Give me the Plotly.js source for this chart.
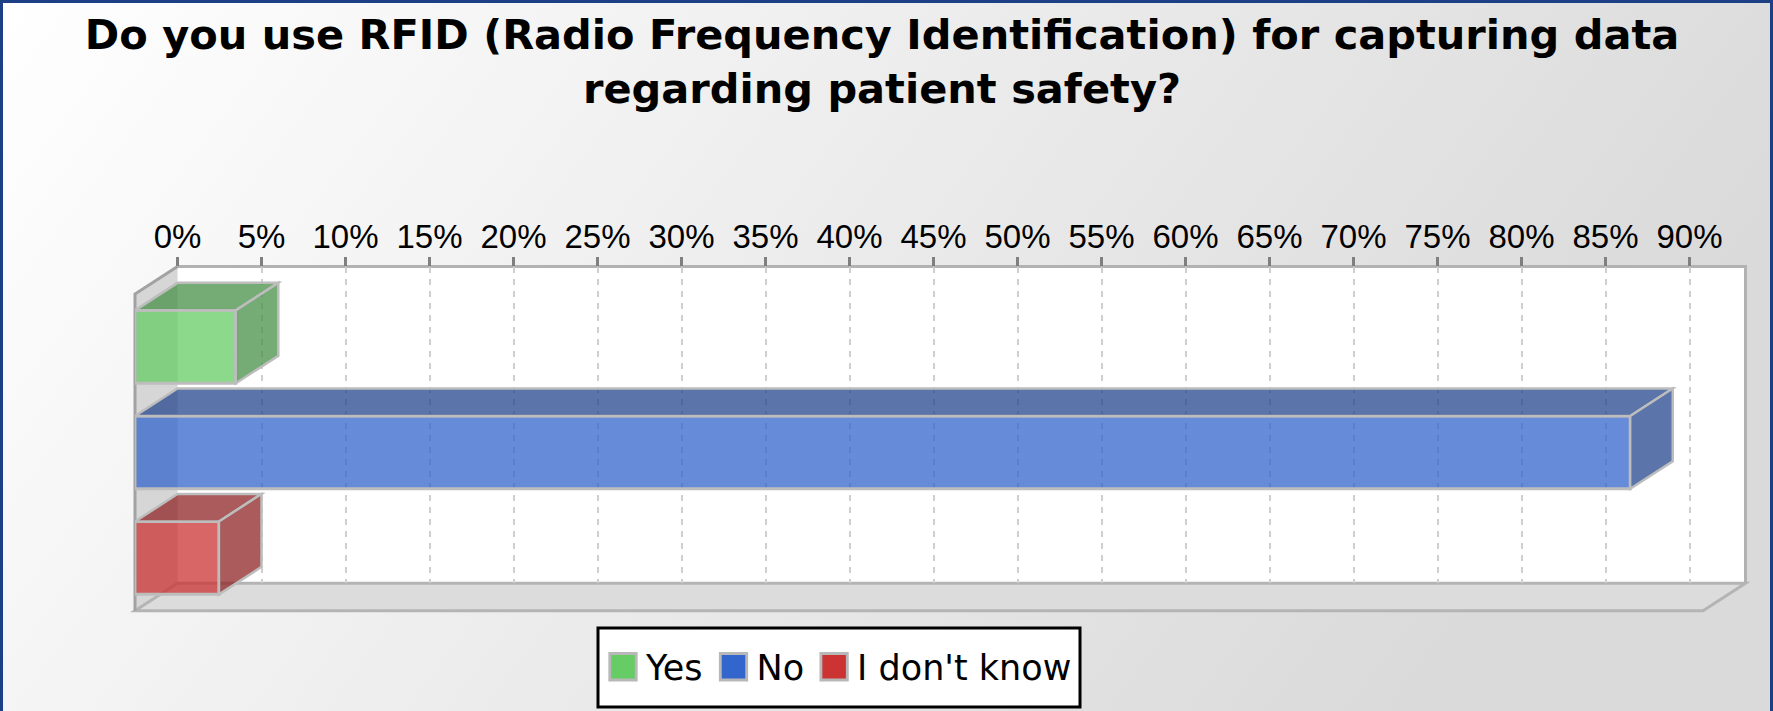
<!DOCTYPE html>
<html>
<head>
<meta charset="utf-8">
<script src="https://cdn.plot.ly/plotly-3.0.1.min.js"></script>
<style>
html, body { margin: 0; padding: 0; background: #ffffff; }
#chart { width: 1773px; height: 711px; }
</style>
</head>
<body>
<div id="chart"></div>
<script>
// ---------------- DATA ----------------
const categories = ['Yes', 'No', "I don't know"];
const values = [6, 89, 5];               // percent of respondents
const baseColors = ['#66cc66', '#3366cc', '#cc3333'];
const tickValues = [0, 5, 10, 15, 20, 25, 30, 35, 40, 45, 50, 55, 60, 65, 70, 75, 80, 85, 90];
const tickLabels = ['0%', '5%', '10%', '15%', '20%', '25%', '30%', '35%', '40%', '45%',
                    '50%', '55%', '60%', '65%', '70%', '75%', '80%', '85%', '90%'];
const titleText = 'Do you use RFID (Radio Frequency Identification) for capturing data<br>regarding patient safety?';

// ---------------- LAYOUT GEOMETRY (pixels) ----------------
const W = 1773, H = 711;
const FX0 = 135, FY0 = 294;        // front plane top-left
const PW = 1568, PH = 316.7;       // plane size
const DX = 42.5, DY = 27.5;        // 3D depth offset
const BX0 = FX0 + DX, BY0 = FY0 - DY; // back plane top-left
const XMAX = 93.33;
const BAR_W = 0.69;
const ALPHA = 0.75;

const px = x => x / W;
const py = y => 1 - y / H;

function hexRgb(h) {
  return [parseInt(h.slice(1, 3), 16), parseInt(h.slice(3, 5), 16), parseInt(h.slice(5, 7), 16)];
}
function rgba(h, a, f) {
  const c = hexRgb(h).map(v => Math.round(v * (f || 1)));
  return `rgba(${c[0]},${c[1]},${c[2]},${a})`;
}

// ---------------- TRACES ----------------
// back-plane axis carrier (draws nothing; makes the back-wall axis with ticks and grid exist)
const backPlane = {
  type: 'scatter', mode: 'lines', x: [0], y: [0],
  xaxis: 'x', yaxis: 'y', showlegend: false, hoverinfo: 'skip',
  line: { width: 0, color: 'rgba(0,0,0,0)' }
};

const bars = categories.map((cat, i) => ({
  type: 'bar',
  orientation: 'h',
  name: cat,
  x: [values[i]],
  y: [i],
  xaxis: 'x2',
  yaxis: 'y2',
  width: BAR_W,
  marker: { color: rgba(baseColors[i], ALPHA), line: { color: '#bdbdbd', width: 3 } },
  hoverinfo: 'x+name'
}));
const data = [backPlane].concat(bars);

// 3D faces of each bar, in data units of the front axes
const pxPerX = PW / XMAX;
const pxPerY = PH / categories.length;
const ddx = DX / pxPerX;
const ddy = DY / pxPerY;
const faceShapes = [];
categories.forEach((cat, i) => {
  const v = values[i], w = BAR_W / 2;
  const top = i - w, bot = i + w;
  const fill = rgba(baseColors[i], ALPHA, 0.7);
  faceShapes.push({
    type: 'path', xref: 'x2', yref: 'y2', layer: 'above',
    path: `M0,${top} L${ddx},${top - ddy} L${v + ddx},${top - ddy} L${v},${top} Z`,
    fillcolor: fill, line: { color: '#bdbdbd', width: 2.5 }
  });
  faceShapes.push({
    type: 'path', xref: 'x2', yref: 'y2', layer: 'above',
    path: `M${v},${top} L${v + ddx},${top - ddy} L${v + ddx},${bot - ddy} L${v},${bot} Z`,
    fillcolor: fill, line: { color: '#bdbdbd', width: 2.5 }
  });
});

// frame shapes (paper coordinates)
const P = (x, y) => `${px(x)},${py(y)}`;
const frameShapes = [
  // back wall
  { type: 'rect', xref: 'paper', yref: 'paper', layer: 'below',
    x0: px(BX0), x1: px(BX0 + PW), y0: py(BY0 + PH), y1: py(BY0),
    fillcolor: '#ffffff', line: { width: 0 } },
  // left wall
  { type: 'path', xref: 'paper', yref: 'paper', layer: 'below',
    path: `M${P(FX0, FY0)} L${P(BX0, BY0)} L${P(BX0, BY0 + PH)} L${P(FX0, FY0 + PH)} Z`,
    fillcolor: '#d6d6d6', line: { width: 0 } },
  // floor
  { type: 'path', xref: 'paper', yref: 'paper', layer: 'below',
    path: `M${P(BX0, BY0 + PH)} L${P(BX0 + PW, BY0 + PH)} L${P(FX0 + PW, FY0 + PH)} L${P(FX0, FY0 + PH)} Z`,
    fillcolor: '#dcdcdc', line: { color: '#b4b4b4', width: 3 } },
  // back wall top and right edges
  { type: 'path', xref: 'paper', yref: 'paper', layer: 'below',
    path: `M${P(BX0, BY0)} L${P(BX0 + PW, BY0)} L${P(BX0 + PW, BY0 + PH)}`,
    line: { color: '#b2b2b2', width: 3 } },
  // left wall edges
  { type: 'path', xref: 'paper', yref: 'paper', layer: 'below',
    path: `M${P(FX0, FY0 + PH)} L${P(FX0, FY0)} L${P(BX0, BY0)}`,
    line: { color: '#a2a2a2', width: 3 } },
  // legend box
  { type: 'rect', xref: 'paper', yref: 'paper', layer: 'below',
    x0: px(598), x1: px(1080), y0: py(707), y1: py(628),
    fillcolor: '#ffffff', line: { color: '#000000', width: 3 } },
  // outer border
  { type: 'path', xref: 'paper', yref: 'paper', layer: 'above',
    path: `M${P(1.5, H)} L${P(1.5, 1.5)} L${P(W - 1.5, 1.5)} L${P(W - 1.5, H)}`,
    line: { color: '#1d3f86', width: 3 } }
];

const gradSvg = `<svg xmlns='http://www.w3.org/2000/svg' width='${W}' height='${H}' preserveAspectRatio='none'>` +
  `<defs><linearGradient id='g' x1='0' y1='0' x2='1' y2='0.3'>` +
  `<stop offset='0' stop-color='#ffffff'/><stop offset='1' stop-color='#dadada'/></linearGradient></defs>` +
  `<rect width='${W}' height='${H}' fill='url(#g)'/></svg>`;

const layout = {
  width: W, height: H,
  margin: { l: 0, r: 0, t: 0, b: 0, pad: 0 },
  paper_bgcolor: '#eeeeee',
  plot_bgcolor: 'rgba(0,0,0,0)',
  barmode: 'overlay',
  showlegend: true,
  title: {
    text: titleText,
    font: { family: 'DejaVu Sans', size: 41.5, weight: 'bold', color: '#000000' },
    xref: 'container', yref: 'container',
    x: 882 / W, xanchor: 'center',
    y: 1 - 49 / H, yanchor: 'top'
  },
  xaxis: {
    domain: [px(BX0), px(BX0 + PW)],
    range: [0, XMAX],
    side: 'top', anchor: 'y',
    tickmode: 'array', tickvals: tickValues, ticktext: tickLabels,
    ticks: 'outside', ticklen: 9, tickwidth: 2.5, tickcolor: '#7f7f7f',
    ticklabelstandoff: -5,
    tickfont: { family: 'Liberation Sans', size: 33, color: '#000000' },
    showgrid: true, gridcolor: '#cfcfcf', gridwidth: 2, griddash: '6px,6px',
    showline: false, zeroline: false, fixedrange: true
  },
  yaxis: {
    domain: [py(BY0 + PH), py(BY0)],
    range: [0, 1], anchor: 'x',
    showticklabels: false, ticks: '', showgrid: false, zeroline: false, showline: false, fixedrange: true
  },
  xaxis2: {
    domain: [px(FX0), px(FX0 + PW)],
    range: [0, XMAX], anchor: 'y2',
    visible: false, showgrid: false, zeroline: false, fixedrange: true
  },
  yaxis2: {
    // extended upward by the depth so the bars' top faces are not clipped
    domain: [py(FY0 + PH), py(FY0 - DY)],
    range: [categories.length - 0.5, -0.5 - ddy], anchor: 'x2',
    visible: false, showgrid: false, zeroline: false, fixedrange: true
  },
  legend: {
    orientation: 'h',
    x: px(598), xanchor: 'left',
    y: py(667), yanchor: 'middle',
    bgcolor: 'rgba(0,0,0,0)', borderwidth: 0,
    itemwidth: 38,
    font: { family: 'DejaVu Sans', size: 35, color: '#000000' },
    traceorder: 'normal', itemclick: false, itemdoubleclick: false
  },
  shapes: frameShapes.concat(faceShapes),
  images: [{
    source: 'data:image/svg+xml;charset=utf-8,' + encodeURIComponent(gradSvg),
    xref: 'paper', yref: 'paper', x: 0, y: 1, sizex: 1, sizey: 1,
    sizing: 'stretch', xanchor: 'left', yanchor: 'top', layer: 'below'
  }]
};

Plotly.newPlot('chart', data, layout, { staticPlot: true, displayModeBar: false }).then(gd => {
  // enlarge legend swatches to match the original's big colour squares
  const items = gd.querySelectorAll('.legend .traces');
  items.forEach((g, i) => {
    g.querySelectorAll('.legendpoints path').forEach(p => {
      p.setAttribute('transform', 'translate(25,0) scale(2.2)');
      p.style.fill = baseColors[i % baseColors.length];
      p.style.fillOpacity = 1;
      p.style.stroke = '#b8b8b8';
      p.style.strokeWidth = '1.3px';
    });
  });
});
</script>
</body>
</html>
